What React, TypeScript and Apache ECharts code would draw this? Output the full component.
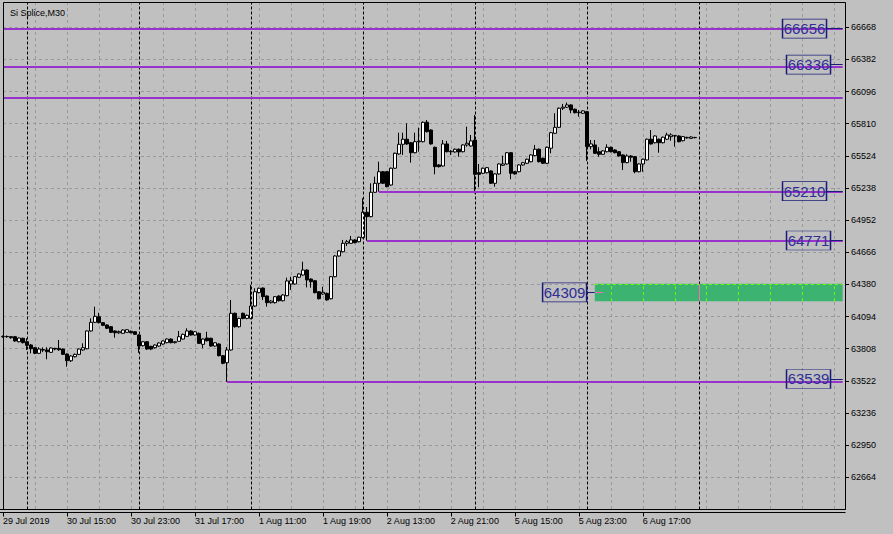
import React, { useEffect, useRef } from "react";
import * as echarts from "echarts";

const FONT = "Liberation Sans";

const opens = [
  63915, 63917, 63915, 63915, 63870, 63901, 63870, 63841, 63817, 63767,
  63800, 63797, 63776, 63811, 63811, 63805, 63761, 63701, 63737, 63758,
  63797, 63808, 63966, 64043, 64093, 64040, 64019, 64004, 63966, 63950,
  63945, 63954, 63963, 63959, 63930, 63835, 63870, 63829, 63817, 63832,
  63850, 63862, 63894, 63862, 63874, 63894, 63918, 63966, 63930, 63945,
  63847, 63903, 63901, 63832, 63850, 63746, 63684, 63797, 64123, 64004,
  64123, 64078, 64078, 64188, 64307, 64348, 64277, 64218, 64218, 64277,
  64235, 64280, 64384, 64384, 64444, 64464, 64508, 64428, 64413, 64315,
  64295, 64301, 64253, 64449, 64633, 64671, 64746, 64746, 64776, 64760,
  64796, 65022, 64983, 65200, 65280, 65383, 65383, 65265, 65414, 65541,
  65627, 65672, 65641, 65552, 65650, 65650, 65823, 65754, 65600, 65443,
  65434, 65630, 65561, 65559, 65583, 65561, 65621, 65612, 65665, 65374,
  65369, 65374, 65390, 65280, 65363, 65440, 65452, 65552, 65383, 65383,
  65443, 65458, 65472, 65526, 65583, 65503, 65458, 65592, 65725, 65778,
  65948, 65957, 65977, 65939, 65908, 65903, 65917, 65606, 65621, 65561,
  65538, 65561, 65600, 65576, 65561, 65532, 65464, 65523, 65517, 65383,
  65452, 65488, 65672, 65641, 65672, 65641, 65672, 65695, 65701, 65701,
  65659, 65684, 65680, 65686,
];
const closes = [
  63917, 63915, 63906, 63877, 63903, 63862, 63838, 63808, 63767, 63805,
  63796, 63781, 63814, 63805, 63799, 63758, 63701, 63743, 63758, 63805,
  63817, 63966, 64043, 64096, 64040, 64016, 63990, 63954, 63950, 63960,
  63974, 63977, 63950, 63936, 63832, 63870, 63805, 63805, 63841, 63859,
  63877, 63894, 63862, 63870, 63915, 63936, 63966, 63930, 63959, 63856,
  63894, 63879, 63832, 63861, 63746, 63678, 63797, 64123, 64004, 64078,
  64078, 64105, 64188, 64315, 64346, 64271, 64218, 64232, 64271, 64235,
  64286, 64411, 64413, 64449, 64473, 64508, 64420, 64404, 64307, 64253,
  64310, 64242, 64449, 64633, 64678, 64746, 64760, 64776, 64752, 64800,
  65022, 64983, 65200, 65280, 65383, 65280, 65250, 65414, 65547, 65627,
  65672, 65630, 65552, 65650, 65655, 65823, 65739, 65630, 65428, 65428,
  65630, 65561, 65565, 65583, 65559, 65621, 65636, 65657, 65360, 65360,
  65414, 65419, 65280, 65363, 65452, 65452, 65552, 65369, 65363, 65443,
  65463, 65494, 65532, 65583, 65472, 65458, 65600, 65730, 65778, 65948,
  65957, 65977, 65932, 65908, 65912, 65924, 65606, 65630, 65547, 65538,
  65568, 65600, 65561, 65552, 65523, 65464, 65523, 65512, 65383, 65452,
  65494, 65672, 65630, 65701, 65641, 65690, 65710, 65710, 65704, 65650,
  65695, 65688, 65692, 65688,
];
const lows = [
  63906, 63906, 63897, 63870, 63865, 63855, 63797, 63767, 63760, 63761,
  63778, 63714, 63770, 63794, 63790, 63752, 63648, 63690, 63730, 63752,
  63790, 63803, 63960, 64038, 64033, 64010, 63983, 63948, 63906, 63940,
  63940, 63950, 63945, 63930, 63772, 63828, 63798, 63796, 63810, 63826,
  63843, 63856, 63856, 63855, 63870, 63890, 63912, 63925, 63925, 63850,
  63812, 63872, 63826, 63826, 63740, 63670, 63514, 63790, 63995, 63995,
  64070, 64070, 64070, 64180, 64300, 64241, 64182, 64210, 64210, 64229,
  64229, 64274, 64331, 64378, 64438, 64458, 64354, 64351, 64300, 64246,
  64288, 64236, 64246, 64443, 64627, 64665, 64722, 64740, 64745, 64754,
  64790, 64769, 64977, 65194, 65205, 65274, 65244, 65258, 65408, 65535,
  65532, 65621, 65464, 65546, 65561, 65644, 65733, 65624, 65360, 65420,
  65428, 65555, 65532, 65552, 65517, 65555, 65606, 65606, 65190, 65245,
  65362, 65368, 65274, 65250, 65357, 65434, 65446, 65316, 65357, 65377,
  65437, 65452, 65466, 65520, 65466, 65452, 65452, 65547, 65719, 65772,
  65932, 65950, 65903, 65902, 65873, 65897, 65479, 65582, 65541, 65517,
  65532, 65555, 65555, 65546, 65517, 65398, 65458, 65472, 65369, 65377,
  65383, 65482, 65624, 65635, 65552, 65635, 65666, 65659, 65606, 65644,
  65653, 65677, 65675, 65680,
];
const highs = [
  63926, 63926, 63920, 63922, 63908, 63906, 63901, 63850, 63822, 63821,
  63820, 63821, 63820, 63816, 63886, 63810, 63765, 63750, 63765, 63810,
  63856, 63970, 64079, 64182, 64128, 64046, 64025, 64010, 63970, 63970,
  63980, 63983, 63970, 63965, 63936, 63876, 63876, 63835, 63846, 63864,
  63882, 63900, 63900, 63876, 63966, 63942, 63990, 63972, 63965, 63952,
  63900, 63959, 63906, 63866, 63856, 63752, 63823, 64242, 64130, 64085,
  64130, 64112, 64375, 64346, 64352, 64354, 64283, 64240, 64277, 64283,
  64292, 64440, 64449, 64455, 64479, 64582, 64515, 64434, 64420, 64320,
  64360, 64307, 64455, 64640, 64684, 64776, 64776, 64811, 64782, 64805,
  65147, 65069, 65280, 65339, 65472, 65390, 65390, 65420, 65553, 65730,
  65730, 65814, 65648, 65730, 65775, 65830, 65843, 65760, 65607, 65450,
  65665, 65657, 65576, 65590, 65590, 65627, 65784, 65710, 65888, 65452,
  65420, 65425, 65396, 65369, 65458, 65526, 65558, 65558, 65390, 65449,
  65470, 65500, 65538, 65621, 65590, 65509, 65607, 65737, 65903, 65954,
  65986, 65998, 65983, 65945, 65932, 65930, 65924, 65665, 65665, 65600,
  65574, 65627, 65607, 65582, 65567, 65538, 65538, 65530, 65523, 65458,
  65500, 65678, 65754, 65707, 65678, 65696, 65730, 65725, 65710, 65707,
  65701, 65695, 65697, 65693,
];

// session days (M30 bars 10:00 .. 23:30)
const dayNames = ["29 Jul", "30 Jul", "31 Jul", "1 Aug", "2 Aug", "5 Aug", "6 Aug", "7 Aug", "8 Aug"];
const firstDaySlot = 22; // 29 Jul starts at 21:00 on the visible chart
const firstLabel = "29 Jul 2019";
const totalSlots = 211;

const yTicks = [62664, 62950, 63236, 63522, 63808, 64094, 64380, 64666, 64952, 65238, 65524, 65810, 66096, 66382, 66668];
const yMin = 62377.5;
const yMax = 66893;

// horizontal levels: [value, start bar index]
const levelValues = [66656, 66318, 66042, 65206, 64770, 63515];
const levelStarts = [0, 0, 0, 94, 91, 56];

// price labels: [text, bar index of box center]
const priceLabels = ["66656", "66336", "65210", "64771", "63539", "64309"];
const priceLabelIdx = [200, 201, 200, 201, 201, 140];
const connectorFrom = [206, 207, 206, 207, 207, 146];
const connectorTo = [210, 210, 210, 210, 210, 148];

// green zone
const zoneStart = 148;
const zoneTop = 64386;
const zoneBottom = 64231;

function pad(n: number) {
  return n < 10 ? "0" + n : String(n);
}

function buildCategories(): { cats: string[]; dayStarts: number[] } {
  const cats: string[] = [];
  const dayStarts: number[] = [];
  for (let d = 0; d < dayNames.length && cats.length < totalSlots; d++) {
    const start = d === 0 ? firstDaySlot : 0;
    for (let s = start; s < 28 && cats.length < totalSlots; s++) {
      if (s === 0) dayStarts.push(cats.length);
      const m = 600 + 30 * s;
      cats.push(`${dayNames[d]} ${pad(Math.floor(m / 60))}:${pad(m % 60)}`);
    }
  }
  return { cats, dayStarts };
}

export default function App() {
  const ref = useRef<HTMLDivElement>(null);

  useEffect(() => {
    if (!ref.current) return;
    const chart = echarts.init(ref.current, undefined, { renderer: "svg" });
    const { cats, dayStarts } = buildCategories();
    const nBars = opens.length;
    const candleData = opens.map((o, i) => [o, closes[i], lows[i], highs[i]]);
    const separators = dayStarts.filter((i) => i <= nBars);
    const lastIdx = totalSlots - 1;

    const limeLines: any[] = [];
    for (let i = zoneStart; i <= lastIdx; i++) {
      if (i % 8 === 0 && i > zoneStart) {
        limeLines.push([{ coord: [i, zoneBottom] }, { coord: [i, zoneTop] }]);
      }
    }
    limeLines.push([{ coord: [zoneStart, 64380] }, { coord: [lastIdx, 64380] }]);
    const pinkLines: any[] = separators
      .filter((i) => i > zoneStart)
      .map((i) => [{ coord: [i, zoneBottom] }, { coord: [i, zoneTop] }]);
    pinkLines.push([{ coord: [148, 64309] }, { coord: [150.3, 64309] }]);

    const option: any = {
      animation: false,
      backgroundColor: "#C0C0C0",
      title: {
        text: "Si Splice,M30",
        left: 5,
        top: 3,
        textStyle: { fontSize: 9, fontWeight: "normal", color: "#000", fontFamily: FONT },
      },
      grid: { left: 2.7, right: 50.3, top: 2, bottom: 24.5, containLabel: false },
      xAxis: {
        type: "category",
        data: cats,
        boundaryGap: false,
        offset: 3,
        axisLine: { show: false },
        axisTick: {
          show: true,
          length: 4,
          interval: (i: number) => i % 16 === 0 && i < nBars,
          lineStyle: { color: "#000" },
        },
        axisLabel: {
          interval: (i: number) => i % 16 === 0 && i < nBars,
          formatter: (v: string, i: number) => (i === 0 ? firstLabel : v),
          align: "left",
          margin: 4,
          fontSize: 9,
          color: "#000",
          fontFamily: FONT,
        },
        splitLine: {
          show: true,
          interval: (i: number) => i % 8 === 0,
          lineStyle: { color: "#999999", type: [3, 3], width: 1 },
        },
      },
      yAxis: {
        type: "value",
        position: "right",
        min: yMin,
        max: yMax,
        offset: 2.3,
        axisLine: { show: false },
        axisTick: { show: true, length: 4, customValues: yTicks, lineStyle: { color: "#000" } },
        axisLabel: {
          customValues: yTicks,
          margin: 6,
          fontSize: 9,
          color: "#000",
          fontFamily: FONT,
          formatter: (v: number) => String(Math.round(v)),
        },
        splitLine: { show: true, lineStyle: { color: "#999999", type: [3, 3], width: 1 } },
      },
      series: [
        {
          type: "candlestick",
          data: candleData,
          barWidth: 3,
          z: 3,
          itemStyle: {
            color: "#FFFFFF",
            color0: "#000000",
            borderColor: "#000000",
            borderColor0: "#000000",
            borderWidth: 1,
          },
          markLine: {
            silent: true,
            symbol: ["none", "none"],
            label: { show: false },
            lineStyle: { color: "#000", type: [3, 2], width: 1 },
            data: separators.map((i) => ({ xAxis: cats[i] })),
          },
        },
        {
          type: "line",
          data: [],
          z: 2,
          markArea: {
            silent: true,
            itemStyle: { color: "#3CB371" },
            data: [[{ coord: [zoneStart, zoneTop] }, { coord: [lastIdx, zoneBottom] }]],
          },
        },
        {
          type: "line",
          data: [],
          z: 4,
          markLine: {
            silent: true,
            symbol: ["none", "none"],
            label: { show: false },
            lineStyle: { color: "#66FF00", type: [3, 3], width: 1 },
            data: limeLines,
          },
        },
        {
          type: "line",
          data: [],
          z: 4,
          markLine: {
            silent: true,
            symbol: ["none", "none"],
            label: { show: false },
            lineStyle: { color: "#FF69B4", type: "solid", width: 1 },
            data: pinkLines,
          },
        },
        {
          type: "line",
          data: [],
          z: 5,
          markLine: {
            silent: true,
            symbol: ["none", "none"],
            label: { show: false },
            lineStyle: { color: "#9932CC", type: "solid", width: 2 },
            data: levelValues.map((v, k) => [{ coord: [levelStarts[k], v] }, { coord: [lastIdx, v] }]),
          },
        },
        {
          type: "line",
          data: [],
          z: 6,
          markLine: {
            silent: true,
            symbol: ["none", "none"],
            label: { show: false },
            lineStyle: { color: "#1C1C78", type: "solid", width: 1 },
            data: priceLabels.map((t, k) => [
              { coord: [connectorFrom[k], Number(t)] },
              { coord: [connectorTo[k], Number(t)] },
            ]),
          },
          markPoint: {
            silent: true,
            symbol: "rect",
            symbolSize: [44, 19],
            symbolOffset: [1.8, 0],
            itemStyle: { color: "rgba(0,0,0,0)", borderColor: "#1C1C78", borderWidth: 1 },
            label: {
              show: true,
              position: "inside",
              color: "#2E2E96",
              fontSize: 15,
              fontFamily: FONT,
              formatter: (p: any) => p.name,
            },
            data: priceLabels.map((t, k) => ({ name: t, coord: [priceLabelIdx[k], Number(t)] })),
          },
        },
      ],
      graphic: [
        {
          type: "rect",
          z: 100,
          silent: true,
          shape: { x: 3.5, y: 2.5, width: 842, height: 507 },
          style: { fill: "none", stroke: "#000", lineWidth: 1 },
        },
        {
          type: "line",
          z: 100,
          silent: true,
          shape: { x1: 0, y1: 509.5, x2: 845.5, y2: 509.5 },
          style: { stroke: "#000", lineWidth: 1 },
        },
        {
          type: "line",
          z: 100,
          silent: true,
          shape: { x1: 0, y1: 512.5, x2: 845.5, y2: 512.5 },
          style: { stroke: "#000", lineWidth: 1 },
        },
      ],
    };

    chart.setOption(option);
    return () => chart.dispose();
  }, []);

  return (
    <div
      ref={ref}
      style={{ position: "fixed", left: 0, top: 0, width: 893, height: 534 }}
    />
  );
}
